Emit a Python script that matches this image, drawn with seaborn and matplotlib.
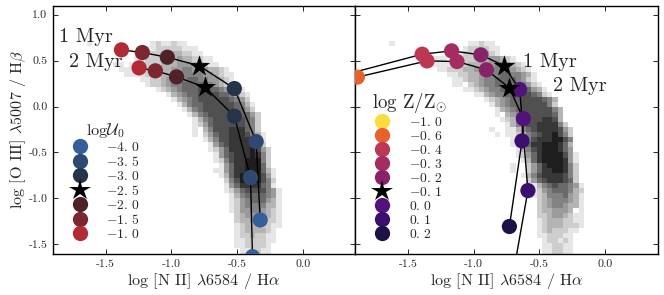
import numpy as np
import matplotlib
matplotlib.use("Agg")
import matplotlib.pyplot as plt
from matplotlib.lines import Line2D
import seaborn as sns

sns.set_style("ticks")
plt.rcParams.update({
    "font.family": ["cmr10", "DejaVu Serif"],
    "mathtext.fontset": "cm",
    "axes.unicode_minus": False,
    "axes.formatter.use_mathtext": True,
    "axes.linewidth": 1.0,
})

# Model tracks, left panel (ionisation parameter)
u_labels = ["-1.0", "-1.5", "-2.0", "-2.5", "-3.0", "-3.5", "-4.0"]
u_colors = ["#b22a35", "#7c2630", "#4f2228", "#000000", "#26344a", "#2f4a72", "#335f9b"]
u_1myr_x = [-1.379, -1.22, -1.03, -0.786, -0.52, -0.354, -0.323]
u_1myr_y = [0.617, 0.588, 0.537, 0.443, 0.196, -0.381, -1.235]
u_2myr_x = [-1.245, -1.121, -0.96, -0.743, -0.52, -0.397, -0.382]
u_2myr_y = [0.421, 0.389, 0.323, 0.21, -0.105, -0.773, -1.634]

# Model tracks, right panel (metallicity)
z_labels = ["-0.6", "-0.4", "-0.3", "-0.2", "-0.1", "0.0", "0.1", "0.2"]
z_colors = ["#e8612c", "#bb3754", "#a52c60", "#8a226a", "#000000", "#51127c", "#3b0f70", "#1d1147"]
z_1myr_x = [-1.97, -1.391, -1.167, -0.944, -0.768, -0.649, -0.586, -0.71]
z_1myr_y = [0.35, 0.57, 0.606, 0.563, 0.443, 0.185, -0.915, -1.92]
z_2myr_x = [-1.884, -1.354, -1.126, -0.902, -0.727, -0.621, -0.631, -0.727]
z_2myr_y = [0.32, 0.497, 0.49, 0.40, 0.203, -0.131, -0.374, -1.306]

legend_u_labels = ["-4.0", "-3.5", "-3.0", "-2.5", "-2.0", "-1.5", "-1.0"]
legend_z_labels = ["-1.0", "-0.6", "-0.4", "-0.3", "-0.2", "-0.1", "0.0", "0.1", "0.2"]
legend_z_colors = ["#fcdc3c", "#e8612c", "#bb3754", "#a52c60", "#8a226a", "#000000", "#51127c", "#3b0f70", "#1d1147"]

x_ticks = [-1.5, -1.0, -0.5, 0.0]
y_ticks = [-1.5, -1.0, -0.5, 0.0, 0.5, 1.0]

# Observed density, read row by row from the top: (first column, darkness per cell)
density_left = [
    (1, "1000000000001211211"), (12, "1122222111"), (11, "112223332211"),
    (10, "112223334332211"), (6, "11011122233344433211"), (7, "111122233344554443321"),
    (8, "111122233445555443211"), (11, "112234455665544321"), (12, "122345566665543211"),
    (14, "12345666776654321"), (16, "1345667777665321"), (17, "134567777776542"),
    (18, "135667777776531"), (19, "13567777776642"), (20, "13567777776642"),
    (21, "1356777777652"), (21, "1246777777652"), (21, "1035777888652"),
    (21, "10246778887531"), (23, "135778888641"), (24, "14678888642"),
    (24, "124688889742"), (25, "14678889852"), (25, "12578899952"),
    (26, "1468899962"), (25, "114688999631"), (26, "13689999741"),
    (27, "2579999752"), (27, "1468888651"), (27, "12467777541"),
    (28, "1356666541"), (28, "1245666431"), (28, "1245555331"),
    (28, "1244554321"), (29, "234444321"), (29, "233443221"),
    (29, "123332211"), (29, "12333321"), (29, "12232211"),
    (29, "11222211"), (29, "1122221"), (30, "112211"),
]
density_right = [
    (1, "100000000000000" + "11211"), (15, "1222211"), (14, "12233321"),
    (8, "11110112223344321"), (8, "1111122233344554321"), (10, "112223344555554321"),
    (12, "11223344556655431"), (13, "1123345566665421"), (13, "11023455666665421"),
    (15, "1123455666666431"), (17, "113455667776521"), (19, "12345667777653"),
    (20, "1345667777752"), (21, "1345677777753"), (21, "1034567777763"),
    (22, "123567778873"), (23, "135677888852"), (20, "1001135678888742"),
    (21, "101123567889752"), (24, "123578889975"), (24, "124688999863"),
    (25, "13578999864"), (25, "124689999741"), (25, "013689999841"),
    (24, "1002468999852"), (24, "1002468899852"), (26, "13578888752"),
    (27, "2467888762"), (28, "1356766541"), (28, "1245666532"),
    (28, "1235556431"), (28, "0234555431"), (28, "0234554331"),
    (29, "233444301"), (29, "223443211"), (29, "123332211"),
    (29, "123332221"), (29, "12322211"), (29, "11222110"),
    (30, "122121"), (30, "112211"), (30, "112211"),
]

x_edges = -1.68 + 0.04 * np.arange(39)
y_edges = -1.6 + 0.055 * np.arange(43)


def draw_density(ax, rows):
    xs, ys, ws = [], [], []
    for i, (start, digits) in enumerate(rows):
        row = len(rows) - 1 - i
        for j, d in enumerate(digits):
            if d != "0":
                xs.append(x_edges[start + j] + 0.02)
                ys.append(y_edges[row] + 0.0275)
                ws.append(int(d))
    sns.histplot(x=xs, y=ys, weights=ws, bins=(x_edges, y_edges), cmap="gray_r",
                 vmin=0, vmax=10.2, ax=ax, zorder=1)


def draw_track(ax, xs, ys, labels, colors):
    sns.lineplot(x=xs, y=ys, sort=False, estimator=None, color="k", lw=1.0, ax=ax, zorder=2)
    pal = dict(zip(labels, colors))
    star = [c == "#000000" for c in colors]
    dots = [not s for s in star]
    sns.scatterplot(x=np.array(xs)[dots], y=np.array(ys)[dots], hue=np.array(labels)[dots],
                    palette=pal, s=120, linewidth=0, legend=False, ax=ax, zorder=3)
    sns.scatterplot(x=np.array(xs)[star], y=np.array(ys)[star], color="k", marker="*",
                    s=260, linewidth=0, legend=False, ax=ax, zorder=4)


def legend_handles(labels, colors):
    out = []
    for lab, col in zip(labels, colors):
        if col == "#000000":
            out.append(Line2D([], [], ls="", marker="*", ms=16, color="k", mew=0, label=lab))
        else:
            out.append(Line2D([], [], ls="", marker="o", ms=11, color=col, mew=0, label=lab))
    return out


def fmt(lab):
    a, b = lab.split(".")
    return rf"${a}.\,{b}$"


fig, (ax1, ax2) = plt.subplots(1, 2, figsize=(6.64, 2.95), dpi=100, sharey=True)
fig.subplots_adjust(left=53 / 664, right=657.5 / 664, top=1 - 5.5 / 295, bottom=1 - 253.5 / 295, wspace=0)

draw_density(ax1, density_left)
draw_density(ax2, density_right)
draw_track(ax1, u_1myr_x, u_1myr_y, u_labels, u_colors)
draw_track(ax1, u_2myr_x, u_2myr_y, u_labels, u_colors)
draw_track(ax2, z_1myr_x, z_1myr_y, z_labels, z_colors)
draw_track(ax2, z_2myr_x, z_2myr_y, z_labels, z_colors)

for ax in (ax1, ax2):
    ax.set_xlim(-1.9, 0.4)
    ax.set_ylim(-1.6, 1.1)
    ax.set_xticks(x_ticks)
    ax.set_xticklabels([f"{t:.1f}" for t in x_ticks], fontsize=8.5)
    ax.set_yticks(y_ticks)
    ax.set_yticklabels([f"{t:.1f}" for t in y_ticks], fontsize=8.5)
    ax.tick_params(direction="in", top=True, right=True, length=3.5, width=0.7, pad=4)
    ax.set_xlabel(r"log [N II] $\lambda$6584 / H$\alpha$", fontsize=11.6, labelpad=2)
    for s in ax.spines.values():
        s.set_visible(True)
        s.set_color("k")
    ax.grid(False)
    ax.set_ylabel("")
ax2.tick_params(labelleft=False)
ax1.set_ylabel(r"log [O III] $\lambda$5007 / H$\beta$", fontsize=11.6, labelpad=0.5)

ax1.text(-1.855, 0.76, "1 Myr", fontsize=14.5, ha="left", va="center", zorder=5)
ax1.text(-1.78, 0.49, "2 Myr", fontsize=14.5, ha="left", va="center", zorder=5)
ax2.text(-0.625, 0.49, "1 Myr", fontsize=14.5, ha="left", va="center", zorder=5)
ax2.text(-0.395, 0.22, "2 Myr", fontsize=14.5, ha="left", va="center", zorder=5)

u_leg_colors = u_colors[::-1]
leg_kw = dict(loc="lower left", bbox_to_anchor=(0.057, 0.05), frameon=False, fontsize=9.8,
              labelspacing=0.075, handletextpad=1.25, handlelength=1.4,
              borderpad=0, borderaxespad=0)
leg1 = ax1.legend(handles=legend_handles([fmt(l) for l in legend_u_labels], u_leg_colors),
                  title=r"log$\mathcal{U}_0$", title_fontsize=11.8, **leg_kw)
leg2 = ax2.legend(handles=legend_handles([fmt(l) for l in legend_z_labels], legend_z_colors),
                  title=r"log Z/Z$_{\odot}$", title_fontsize=13.6, alignment="left", **leg_kw)

fig.savefig("out.png", dpi=100)
